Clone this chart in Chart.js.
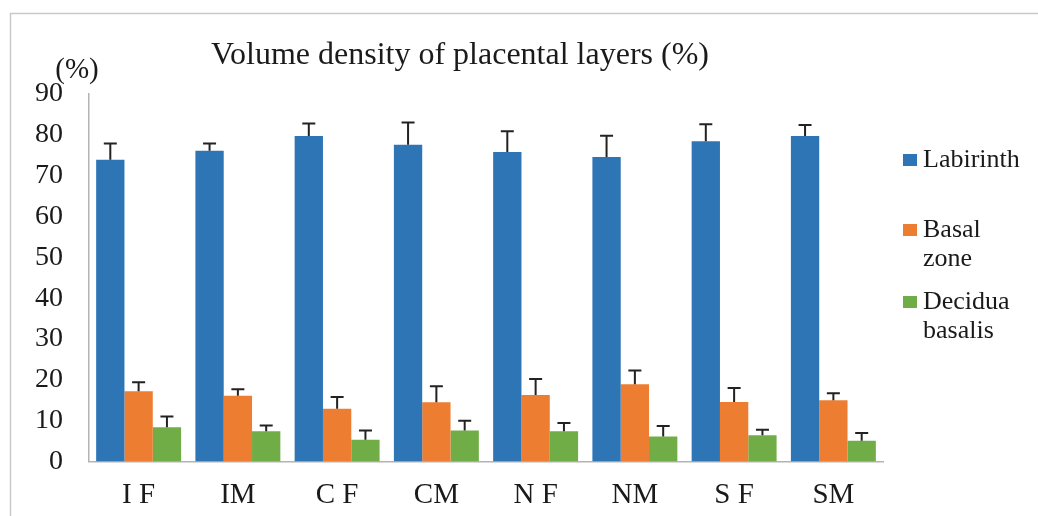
<!DOCTYPE html>
<html>
<head>
<meta charset="utf-8">
<script src="https://cdn.jsdelivr.net/npm/chart.js@4/dist/chart.umd.min.js"></script>
<style>
  html, body { margin: 0; padding: 0; background: #ffffff; }
  #wrap { width: 1038px; height: 516px; }
</style>
</head>
<body>
<div id="wrap"><canvas id="c" width="1038" height="516"></canvas></div>
<script>
const categories = ["I F", "IM", "C F", "CM", "N F", "NM", "S F", "SM"];
const seriesNames = ["Labirinth", "Basal zone", "Decidua basalis"];
const legendLines = [["Labirinth"], ["Basal", "zone"], ["Decidua", "basalis"]];
const labyrinth = [73.9, 76.1, 79.7, 77.6, 75.8, 74.6, 78.4, 79.7];
const labyrinthErr = [4.0, 1.8, 3.1, 5.4, 5.1, 5.2, 4.2, 2.7];
const basalZone = [17.2, 16.1, 12.9, 14.5, 16.3, 18.9, 14.6, 15.0];
const basalZoneErr = [2.2, 1.6, 2.9, 3.9, 3.9, 3.4, 3.4, 1.7];
const deciduaBasalis = [8.4, 7.4, 5.3, 7.6, 7.4, 6.1, 6.4, 5.1];
const deciduaBasalisErr = [2.6, 1.4, 2.3, 2.4, 2.0, 2.6, 1.4, 1.9];
const yTicks = [0, 10, 20, 30, 40, 50, 60, 70, 80, 90];
const titleText = "Volume density of placental layers (%)";
const yUnitText = "(%)";

const colors = ["#2e75b6", "#ed7d31", "#70ad47"];
const errors = [labyrinthErr, basalZoneErr, deciduaBasalisErr];
const SERIF = '"Liberation Serif", "Times New Roman", serif';

const framePlugin = {
  id: 'frame',
  beforeDraw(chart) {
    const ctx = chart.ctx;
    ctx.save();
    ctx.strokeStyle = '#c9c9c9';
    ctx.lineWidth = 1.5;
    ctx.beginPath();
    ctx.moveTo(10.5, 516);
    ctx.lineTo(10.5, 13.5);
    ctx.lineTo(1038, 13.5);
    ctx.stroke();
    ctx.restore();
  }
};

const errorBarPlugin = {
  id: 'errorBars',
  afterDatasetsDraw(chart) {
    const ctx = chart.ctx;
    const yScale = chart.scales.y;
    ctx.save();
    ctx.strokeStyle = '#222222';
    ctx.lineWidth = 2;
    chart.data.datasets.forEach((ds, di) => {
      const meta = chart.getDatasetMeta(di);
      meta.data.forEach((bar, i) => {
        const v = ds.data[i];
        const e = errors[di][i];
        const yTop = yScale.getPixelForValue(v + e);
        const x = bar.x;
        ctx.beginPath();
        ctx.moveTo(x, bar.y);
        ctx.lineTo(x, yTop);
        ctx.moveTo(x - 6.5, yTop);
        ctx.lineTo(x + 6.5, yTop);
        ctx.stroke();
      });
    });
    ctx.restore();
  }
};

const textPlugin = {
  id: 'texts',
  afterDraw(chart) {
    const ctx = chart.ctx;
    const a = chart.chartArea;
    ctx.save();
    ctx.fillStyle = '#1a1a1a';
    // title
    ctx.font = '32px ' + SERIF;
    ctx.textAlign = 'center';
    ctx.textBaseline = 'alphabetic';
    ctx.fillText(titleText, (a.left + a.right) / 2 - 26, 64);
    // y unit
    ctx.font = '29px ' + SERIF;
    ctx.fillText(yUnitText, a.left - 12, 78);
    // legend
    const offsets = [66, 136, 208];
    ctx.font = '26px ' + SERIF;
    ctx.textAlign = 'left';
    ctx.textBaseline = 'middle';
    legendLines.forEach((lines, i) => {
      const y0 = a.top + offsets[i];
      ctx.fillStyle = colors[i];
      ctx.fillRect(a.right + 20, y0 - 6, 14, 12);
      ctx.fillStyle = '#1a1a1a';
      lines.forEach((ln, j) => {
        ctx.fillText(ln, a.right + 40, y0 + j * 29);
      });
    });
    ctx.restore();
  }
};

new Chart(document.getElementById('c'), {
  type: 'bar',
  data: {
    labels: categories,
    datasets: [
      { label: seriesNames[0], data: labyrinth, backgroundColor: colors[0] },
      { label: seriesNames[1], data: basalZone, backgroundColor: colors[1] },
      { label: seriesNames[2], data: deciduaBasalis, backgroundColor: colors[2] }
    ]
  },
  options: {
    responsive: false,
    animation: false,
    devicePixelRatio: 1,
    datasets: { bar: { categoryPercentage: 0.856, barPercentage: 1.0, borderWidth: 0 } },
    layout: { padding: { left: 10, right: 155, top: 94, bottom: 0 } },
    plugins: {
      legend: { display: false },
      title: { display: false },
      tooltip: { enabled: false }
    },
    scales: {
      x: {
        grid: { display: false, drawTicks: false },
        border: { display: true, color: '#b4b4b4', width: 1.5 },
        ticks: { color: '#1a1a1a', font: { family: SERIF, size: 29 }, padding: 16, maxRotation: 0 },
        afterFit(scale) { scale.height = 54.5; }
      },
      y: {
        min: 0, max: 90,
        afterBuildTicks(scale) { scale.ticks = yTicks.map(v => ({ value: v })); },
        grid: { display: false, drawTicks: false },
        border: { display: true, color: '#b4b4b4', width: 1.5 },
        ticks: { color: '#1a1a1a', font: { family: SERIF, size: 28 }, padding: 26 },
        afterFit(scale) { scale.width = 79; }
      }
    }
  },
  plugins: [framePlugin, errorBarPlugin, textPlugin]
});
</script>
</body>
</html>
